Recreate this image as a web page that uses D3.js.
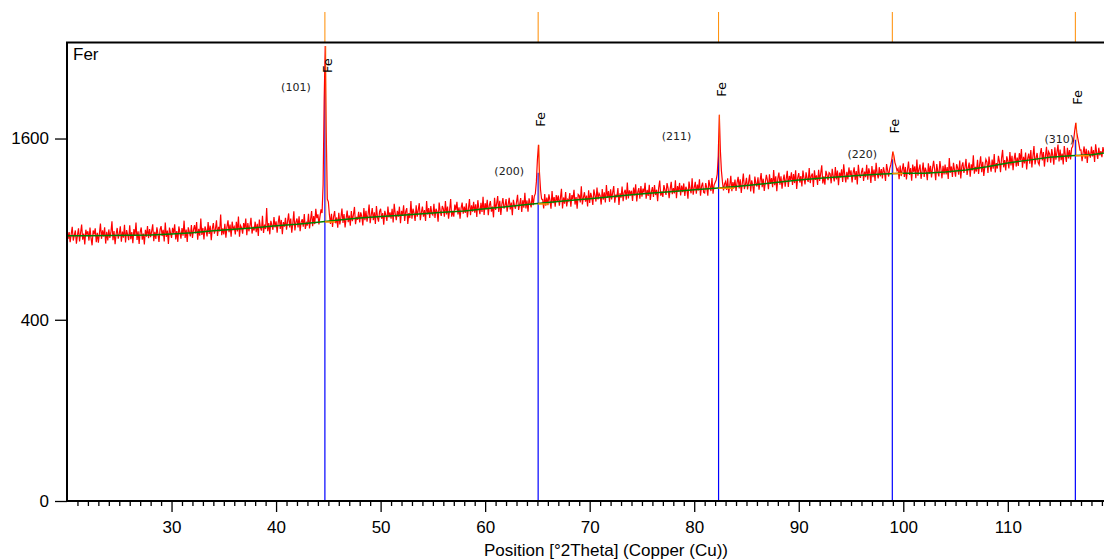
<!DOCTYPE html>
<html>
<head>
<meta charset="utf-8">
<script src="https://cdn.jsdelivr.net/npm/d3@7"></script>
<style>
  body { margin: 0; background: #fff; }
  svg { display: block; }
</style>
</head>
<body>
<svg id="chart" width="1104" height="559"></svg>
<script>
// scan: 20.0 -> 119.2 deg 2Theta, 0.1 deg step
const scanStart = 20;
const scanStep = 0.1;
const counts = [
  901, 836, 881, 816, 866, 916, 826, 861, 891, 806,   // 20
  861, 906, 821, 876, 931, 831, 871, 801, 896, 866,
  886, 826, 911, 841, 796, 891, 866, 906, 816, 876,
  812, 872, 937, 837, 892, 852, 912, 807, 882, 827,
  898, 843, 878, 953, 828, 888, 803, 868, 908, 838,
  869, 919, 819, 884, 844, 929, 814, 894, 864, 829,   // 25
  925, 835, 880, 810, 900, 855, 945, 830, 885, 805,
  881, 911, 831, 871, 801, 896, 851, 921, 841, 901,
  847, 887, 932, 822, 882, 837, 912, 867, 817, 897,
  920, 855, 895, 820, 945, 850, 890, 805, 910, 875,
  843, 908, 873, 933, 833, 888, 818, 918, 878, 838,   // 30
  907, 857, 957, 842, 897, 817, 912, 882, 852, 927,
  842, 897, 927, 872, 947, 832, 902, 857, 972, 862,
  908, 833, 918, 893, 853, 948, 868, 923, 828, 903,
  940, 870, 900, 960, 855, 915, 885, 1000, 860, 905,
  865, 935, 845, 915, 960, 880, 930, 850, 950, 900,   // 35
  915, 865, 950, 885, 985, 850, 925, 910, 870, 940,
  901, 971, 861, 941, 886, 921, 976, 871, 916, 891,
  950, 880, 935, 855, 965, 910, 890, 990, 875, 930,
  901, 1046, 886, 941, 866, 956, 926, 896, 981, 911,
  952, 877, 942, 992, 902, 962, 867, 947, 917, 977,   // 40
  897, 952, 1007, 912, 972, 877, 937, 1022, 892, 947,
  972, 912, 987, 887, 947, 967, 917, 1002, 902, 942,
  924, 1004, 904, 964, 1024, 919, 989, 934, 1039, 974,
  1001, 931, 986, 1036, 1010, 1220, 1950, 2520, 1650, 1110,
  1090, 1000, 934, 1004, 914, 984, 1024, 939, 979, 909,   // 45
  1012, 932, 977, 1042, 942, 1002, 912, 972, 1027, 947,
  993, 923, 1023, 953, 998, 1053, 933, 983, 963, 1018,
  945, 1015, 985, 925, 1045, 960, 1025, 950, 1000, 1070,
  940, 995, 1045, 960, 1015, 935, 1060, 980, 950, 1020,
  1040, 970, 1010, 930, 1025, 995, 955, 1055, 980, 1015,  // 50
  970, 1040, 945, 1075, 1005, 960, 1025, 985, 1055, 940,
  1025, 990, 1065, 955, 1020, 1045, 935, 1010, 975, 1095,
  970, 1040, 1010, 955, 1065, 985, 1030, 1080, 960, 1015,
  1055, 985, 1030, 955, 1095, 1000, 1045, 975, 1060, 1005,
  995, 1075, 975, 1040, 1020, 950, 1085, 1025, 990, 1060,  // 55
  1040, 985, 1095, 1000, 1055, 970, 1030, 1110, 985, 1025,
  985, 1070, 1030, 1090, 1000, 1050, 970, 1045, 1085, 1005,
  1055, 1010, 1080, 980, 1040, 1110, 995, 1065, 1020, 1090,
  1012, 1072, 982, 1102, 1042, 1002, 1082, 1017, 1127, 997,
  1080, 1035, 1105, 995, 1065, 1095, 1020, 1055, 980, 1120,  // 60
  1032, 1077, 1132, 1017, 1097, 997, 1072, 1117, 1042, 1062,
  1110, 1020, 1070, 1120, 1035, 1085, 995, 1105, 1065, 1040,
  1087, 1142, 1032, 1072, 1117, 1017, 1102, 1047, 1157, 1042,
  1100, 1020, 1115, 1080, 1050, 1140, 1065, 1130, 1150, 1240,
  1420, 1545, 1310, 1180, 1110, 1107, 1042, 1147, 1062, 1122,  // 65
  1065, 1145, 1100, 1040, 1170, 1080, 1125, 1055, 1140, 1095,
  1137, 1062, 1117, 1187, 1042, 1122, 1077, 1162, 1057, 1107,
  1095, 1155, 1055, 1140, 1110, 1180, 1070, 1125, 1040, 1145,
  1136, 1086, 1206, 1071, 1121, 1161, 1091, 1136, 1056, 1176,
  1082, 1157, 1122, 1067, 1182, 1137, 1092, 1197, 1107, 1152,  // 70
  1135, 1070, 1185, 1105, 1160, 1085, 1215, 1120, 1170, 1090,
  1183, 1108, 1158, 1208, 1083, 1143, 1123, 1193, 1068, 1153,
  1120, 1205, 1095, 1160, 1180, 1105, 1235, 1115, 1175, 1145,
  1172, 1097, 1197, 1137, 1222, 1092, 1162, 1192, 1112, 1207,
  1128, 1188, 1158, 1233, 1113, 1178, 1133, 1218, 1103, 1163,  // 75
  1200, 1125, 1215, 1140, 1180, 1095, 1195, 1250, 1135, 1165,
  1126, 1216, 1176, 1141, 1231, 1191, 1116, 1186, 1241, 1146,
  1192, 1152, 1252, 1117, 1207, 1167, 1232, 1137, 1212, 1162,
  1228, 1133, 1203, 1183, 1113, 1243, 1188, 1153, 1268, 1143,
  1195, 1240, 1150, 1220, 1175, 1260, 1135, 1205, 1235, 1160,  // 80
  1155, 1230, 1195, 1135, 1255, 1210, 1170, 1270, 1150, 1215,
  1235, 1255, 1300, 1450, 1817, 1500, 1330, 1240, 1175, 1225,
  1243, 1178, 1268, 1153, 1213, 1288, 1168, 1238, 1193, 1258,
  1170, 1235, 1280, 1190, 1260, 1155, 1230, 1305, 1185, 1220,
  1272, 1182, 1237, 1297, 1167, 1252, 1212, 1152, 1282, 1227,  // 85
  1205, 1275, 1180, 1250, 1310, 1200, 1265, 1170, 1235, 1295,
  1254, 1184, 1299, 1224, 1269, 1199, 1334, 1214, 1284, 1169,
  1268, 1313, 1218, 1283, 1188, 1253, 1298, 1203, 1263, 1328,
  1201, 1286, 1256, 1316, 1216, 1301, 1231, 1331, 1186, 1271,
  1310, 1235, 1285, 1205, 1330, 1270, 1220, 1315, 1265, 1240,  // 90
  1351, 1231, 1286, 1306, 1201, 1331, 1256, 1291, 1216, 1336,
  1248, 1308, 1373, 1228, 1283, 1218, 1328, 1293, 1253, 1313,
  1304, 1229, 1344, 1284, 1244, 1359, 1259, 1329, 1214, 1314,
  1275, 1340, 1240, 1380, 1295, 1235, 1320, 1260, 1355, 1290,
  1331, 1236, 1311, 1356, 1256, 1326, 1221, 1376, 1296, 1271,  // 95
  1317, 1352, 1247, 1322, 1277, 1377, 1257, 1347, 1307, 1232,
  1367, 1277, 1337, 1247, 1392, 1307, 1267, 1357, 1282, 1342,
  1267, 1357, 1317, 1247, 1382, 1332, 1282, 1345, 1375, 1420,
  1487, 1450, 1395, 1365, 1330, 1346, 1261, 1371, 1286, 1336,
  1389, 1279, 1359, 1259, 1334, 1404, 1294, 1349, 1249, 1379,  // 100
  1319, 1364, 1269, 1419, 1289, 1339, 1379, 1264, 1324, 1394,
  1279, 1354, 1324, 1254, 1389, 1304, 1369, 1274, 1349, 1409,
  1338, 1253, 1383, 1323, 1283, 1408, 1343, 1268, 1368, 1298,
  1378, 1298, 1358, 1263, 1433, 1313, 1363, 1278, 1393, 1333,
  1281, 1381, 1351, 1296, 1411, 1266, 1366, 1396, 1311, 1356,  // 105
  1425, 1295, 1350, 1395, 1280, 1380, 1330, 1455, 1305, 1360,
  1322, 1417, 1302, 1377, 1447, 1317, 1402, 1287, 1362, 1422,
  1400, 1310, 1445, 1370, 1320, 1420, 1345, 1465, 1315, 1390,
  1346, 1451, 1401, 1316, 1431, 1501, 1356, 1416, 1331, 1446,
  1407, 1347, 1482, 1372, 1452, 1332, 1422, 1477, 1362, 1437,  // 110
  1368, 1473, 1413, 1508, 1353, 1443, 1388, 1478, 1338, 1428,
  1470, 1385, 1500, 1355, 1445, 1535, 1380, 1430, 1475, 1395,
  1377, 1467, 1517, 1412, 1482, 1362, 1452, 1527, 1397, 1487,
  1468, 1393, 1508, 1453, 1378, 1523, 1418, 1483, 1548, 1403,
  1505, 1415, 1470, 1380, 1535, 1455, 1400, 1520, 1430, 1500,  // 115
  1420, 1515, 1530, 1590, 1670, 1742, 1650, 1600, 1550, 1500,
  1501, 1406, 1476, 1531, 1426, 1511, 1391, 1496, 1466, 1436,
  1530, 1445, 1500, 1400, 1550, 1475, 1425, 1520, 1455, 1490,
  1440, 1525, 1480                                      // 119
];

// fitted background (green)
const bgAngles = [20, 22, 24, 26, 28, 30, 32, 34, 36, 38, 40, 42, 44, 46, 48, 50, 52, 54, 56, 58,
  60, 62, 64, 66, 68, 70, 72, 74, 76, 78, 80, 82, 84, 86, 88, 90, 92, 94, 96, 98,
  100, 102, 104, 106, 108, 110, 112, 114, 116, 118, 119.2];
const bgCounts = [856, 856, 858, 860, 862, 868, 877, 890, 900, 910, 922, 932, 946, 962, 975, 985, 995, 1005, 1015, 1025,
  1040, 1055, 1070, 1085, 1100, 1112, 1128, 1142, 1155, 1167, 1180, 1191, 1205, 1220, 1238, 1255, 1268, 1280, 1292, 1302,
  1309, 1309, 1318, 1335, 1360, 1392, 1415, 1438, 1452, 1460, 1474];

// reference pattern Fe
const peakPos = [44.67, 65.07, 82.33, 98.95, 116.46];
const peakHkl = ["(101)", "(200)", "(211)", "(220)", "(310)"];
const peakPhase = ["Fe", "Fe", "Fe", "Fe", "Fe"];
const stickCounts = [2134, 1313, 1551, 1423, 1589];
const peakTop = [2520, 1545, 1817, 1487, 1742];
const peakBg = [948, 1075, 1191, 1306, 1452];

const yTicks = [0, 400, 1600];
const xMajor = [30, 40, 50, 60, 70, 80, 90, 100, 110];

// layout only
const hklShift = [[-29, 5], [-29, -1], [-42, -8], [-30, -5], [-16, -1]];
const markerWidth = [1.0, 1.0, 1.5, 1.0, 1.3];

let svg = d3.select("#chart");
let margin = {left: 67, right: 1104, top: 42.5, bottom: 501};

let x = d3.scaleLinear().domain([20, 119.2]).range([margin.left, margin.right]);
let y = d3.scaleSqrt().domain([0, 2560]).range([margin.bottom, margin.top]);

svg.append("defs").append("clipPath").attr("id", "plotclip")
  .append("rect").attr("x", margin.left).attr("y", margin.top)
  .attr("width", margin.right - margin.left).attr("height", margin.bottom - margin.top);

let plot = svg.append("g").attr("clip-path", "url(#plotclip)");

// blue sticks
plot.selectAll(".stick").data(peakPos).enter().append("line")
  .attr("x1", d => x(d)).attr("x2", d => x(d))
  .attr("y1", margin.bottom).attr("y2", (d, i) => y(stickCounts[i]))
  .attr("stroke", "#0000ff").attr("stroke-width", 1.2);

// measured scan
let scan = counts.map((c, i) => [scanStart + i * scanStep, c]);
plot.append("path").datum(scan)
  .attr("fill", "none").attr("stroke", "#ff0000").attr("stroke-width", 1.2)
  .attr("d", d3.line().x(d => x(d[0])).y(d => y(d[1])));

// background
let bg = bgAngles.map((a, i) => [a, bgCounts[i]]);
plot.append("path").datum(bg)
  .attr("fill", "none").attr("stroke", "#008000").attr("stroke-width", 1.5)
  .attr("d", d3.line().x(d => x(d[0])).y(d => y(d[1])));

// peak markers
peakPos.forEach((p, i) => {
  plot.append("line")
    .attr("x1", x(p)).attr("x2", x(p + markerWidth[i]))
    .attr("y1", y(peakBg[i])).attr("y2", y(peakBg[i]))
    .attr("stroke", "#ff8c00").attr("stroke-width", 1.5);
  plot.append("line")
    .attr("x1", x(p) + 1).attr("x2", x(p) + 1)
    .attr("y1", y(peakBg[i])).attr("y2", y(peakTop[i]))
    .attr("stroke", "#ff8c00").attr("stroke-width", 1).attr("opacity", 0.6);
});

// orange ticks above the frame
svg.selectAll(".ptick").data(peakPos).enter().append("line")
  .attr("x1", d => x(d)).attr("x2", d => x(d))
  .attr("y1", 12).attr("y2", margin.top)
  .attr("stroke", "#ff8c00").attr("stroke-width", 1);

// Fe labels
peakPos.forEach((p, i) => {
  let yb = Math.max(y(peakTop[i]) - 18, 73);
  svg.append("text")
    .attr("transform", "translate(" + (x(p) + 7) + "," + yb + ") rotate(-90)")
    .attr("font-family", "DejaVu Sans").attr("font-size", 13)
    .attr("fill", "#000")
    .text(peakPhase[i]);
  svg.append("text")
    .attr("x", x(p) + hklShift[i][0])
    .attr("y", y(stickCounts[i]) + hklShift[i][1])
    .attr("dy", "0.35em")
    .attr("text-anchor", "middle")
    .attr("font-family", "DejaVu Sans").attr("font-size", 11)
    .attr("fill", "#222")
    .text(peakHkl[i]);
});

// axes
let minorTicks = d3.range(21, 120).filter(v => v % 10 !== 0);

let xMinor = svg.append("g").attr("transform", "translate(0," + margin.bottom + ")")
  .call(d3.axisBottom(x).tickValues(minorTicks).tickSize(5).tickFormat(""));
xMinor.select(".domain").remove();

let xAxis = svg.append("g").attr("transform", "translate(0," + margin.bottom + ")")
  .call(d3.axisBottom(x).tickValues(xMajor).tickSize(11).tickPadding(9));
xAxis.select(".domain").remove();
xAxis.selectAll("text").attr("font-family", "Liberation Sans, Arial, sans-serif").attr("font-size", 17).attr("fill", "#000");

let yAxis = svg.append("g").attr("transform", "translate(" + margin.left + ",0)")
  .call(d3.axisLeft(y).tickValues(yTicks).tickFormat(d3.format("d")).tickSize(12).tickPadding(6));
yAxis.select(".domain").remove();
yAxis.selectAll("text").attr("font-family", "Liberation Sans, Arial, sans-serif").attr("font-size", 17).attr("fill", "#000");

svg.selectAll(".tick line").attr("stroke", "#000").attr("stroke-width", 1.3);

// frame
svg.append("path")
  .attr("d", "M" + margin.right + "," + margin.top + "H" + margin.left + "V" + margin.bottom + "H" + margin.right)
  .attr("fill", "none").attr("stroke", "#000").attr("stroke-width", 2);

svg.append("text")
  .attr("x", margin.left + 6).attr("y", 60)
  .attr("font-family", "Liberation Sans, Arial, sans-serif").attr("font-size", 17)
  .text("Fer");

svg.append("text")
  .attr("x", 606).attr("y", 556)
  .attr("text-anchor", "middle")
  .attr("font-family", "Liberation Sans, Arial, sans-serif").attr("font-size", 17)
  .text("Position [°2Theta] (Copper (Cu))");
</script>
</body>
</html>
